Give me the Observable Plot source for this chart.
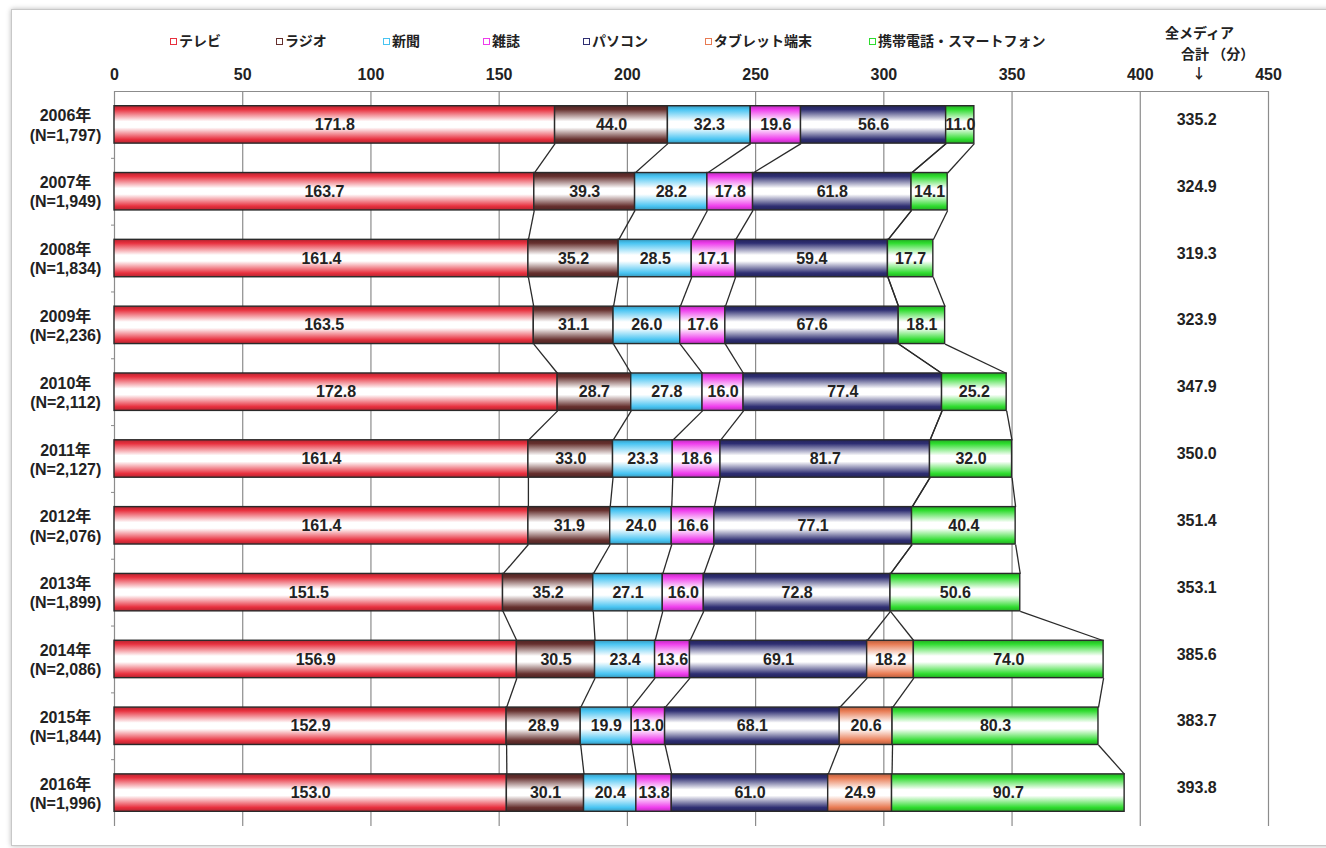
<!DOCTYPE html>
<html><head><meta charset="utf-8">
<script src="https://cdn.jsdelivr.net/npm/d3@7"></script>
<script src="https://cdn.jsdelivr.net/npm/@observablehq/plot@0.6"></script>
<style>
body{margin:0;background:#fff;}
#wrap{position:relative;width:1326px;height:848px;overflow:hidden;background:#fff;}
#paper{position:absolute;left:11px;top:9px;width:1340px;height:835px;border:1px solid #c8c8c8;box-shadow:0 0 5px rgba(0,0,0,.28);}
#chart{position:absolute;left:0;top:0;}
.leg{position:absolute;top:30px;font:bold 14px "Noto Sans CJK JP",sans-serif;color:#222;line-height:20px;white-space:nowrap;}
.sw{display:inline-block;width:5px;height:5px;border:1.5px solid;background:#fff;margin-right:2px;vertical-align:1px;}
.hd{position:absolute;font:bold 14px "Noto Sans CJK JP",sans-serif;color:#222;line-height:18px;white-space:nowrap;}
</style></head>
<body><div id="wrap"><div id="paper"></div><div id="chart"></div></div>
<script>
// ---- data ----
const years = ["2006年","2007年","2008年","2009年","2010年","2011年","2012年","2013年","2014年","2015年","2016年"];
const sampleN = ["1,797","1,949","1,834","2,236","2,112","2,127","2,076","1,899","2,086","1,844","1,996"];
const seriesNames = ["テレビ","ラジオ","新聞","雑誌","パソコン","タブレット端末","携帯電話・スマートフォン"];
const seriesColors = ["#e8303e","#66302e","#48c4f2","#ee3cec","#2e2e72","#e87a52","#2edc2e"];
const tv        = [171.8,163.7,161.4,163.5,172.8,161.4,161.4,151.5,156.9,152.9,153.0];
const radio     = [44.0,39.3,35.2,31.1,28.7,33.0,31.9,35.2,30.5,28.9,30.1];
const newspaper = [32.3,28.2,28.5,26.0,27.8,23.3,24.0,27.1,23.4,19.9,20.4];
const magazine  = [19.6,17.8,17.1,17.6,16.0,18.6,16.6,16.0,13.6,13.0,13.8];
const pc        = [56.6,61.8,59.4,67.6,77.4,81.7,77.1,72.8,69.1,68.1,61.0];
const tablet    = [null,null,null,null,null,null,null,null,18.2,20.6,24.9];
const mobile    = [11.0,14.1,17.7,18.1,25.2,32.0,40.4,50.6,74.0,80.3,90.7];
const totals    = [335.2,324.9,319.3,323.9,347.9,350.0,351.4,353.1,385.6,383.7,393.8];
const xTicks    = [0,50,100,150,200,250,300,350,400,450];

// ---- layout constants ----
const HALF = 0.28;          // half bar thickness (in row units)
const TOTAL_COL = 422;      // x value of the totals column
const legendLeft = [170,276,383,483,583,705,869];

const seriesValues = [tv,radio,newspaper,magazine,pc,tablet,mobile];
const rows = [];
const ends = seriesValues.map(() => []);
years.forEach((y, i) => {
  let cum = 0;
  seriesValues.forEach((vals, s) => {
    const v = vals[i] ?? 0;
    rows.push({i, s, x1: cum, x2: cum + v, v});
    cum += v;
    ends[s][i] = cum;
  });
});
const links = [];
ends.forEach((e, s) => {
  for (let i = 0; i < years.length - 1; i++) links.push({s, i, a: e[i], b: e[i + 1]});
});
const bars = rows.filter(r => r.v > 0);

const font = '"Liberation Sans","Noto Sans CJK JP",sans-serif';
const plot = Plot.plot({
  width: 1326, height: 848,
  marginTop: 91, marginBottom: 22, marginLeft: 114, marginRight: 58,
  x: {domain: [0, 450], axis: null},
  y: {domain: [-0.5, years.length - 0.5], reverse: true, axis: null},
  color: {type: "identity"},
  style: {fontFamily: font, fontSize: "16px", color: "#222", background: "transparent", overflow: "visible"},
  marks: [
    Plot.gridX(xTicks, {stroke: "#8c8c8c", strokeOpacity: 1, strokeWidth: 1.2}),
    Plot.ruleY([-0.5], {stroke: "#8c8c8c", strokeWidth: 1.2}),
    Plot.axisX(xTicks, {anchor: "top", tickSize: 0, tickPadding: 12, fontSize: 16, fontWeight: "bold", label: null}),
    Plot.axisY(d3.range(years.length), {anchor: "left", tickSize: 0, tickPadding: 49, textAnchor: "middle",
      tickFormat: i => `${years[i]}\n(N=${sampleN[i]})`, fontSize: 16, fontWeight: "bold", lineHeight: 1.2, label: null}),
    Plot.axisY(d3.range(years.length - 1).map(i => i + 0.5), {anchor: "left", tickSize: 3, stroke: "#8c8c8c", tickFormat: () => "", label: null}),
    Plot.link(links, {x1: "a", y1: d => d.i + HALF, x2: "b", y2: d => d.i + 1 - HALF, stroke: "#2a2a2a", strokeWidth: 1.3}),
    Plot.rect(bars, {x1: "x1", x2: "x2", y1: d => d.i - HALF, y2: d => d.i + HALF,
      fill: d => `url(#mgrad${d.s})`, stroke: "#2a2a2a", strokeWidth: 1.4}),
    Plot.text(bars, {x: d => (d.x1 + d.x2) / 2, y: "i", text: d => d.v.toFixed(1), fontSize: 16, fontWeight: "bold", fill: "#222"}),
    Plot.text(totals, {x: () => TOTAL_COL, y: (d, i) => i, dy: -5, text: d => d.toFixed(1), fontSize: 16, fontWeight: "bold", fill: "#222"})
  ]
});

const defs = d3.select(plot).insert("defs", ":first-child");
seriesColors.forEach((c, k) => {
  const g = defs.append("linearGradient").attr("id", "mgrad" + k)
    .attr("x1", 0).attr("y1", 0).attr("x2", 0).attr("y2", 1);
  const dark = d3.color(c).darker(0.7).formatHex();
  [[0, dark], [0.1, c], [0.42, "#ffffff"], [0.58, "#ffffff"], [0.9, c], [1, dark]]
    .forEach(([o, col]) => g.append("stop").attr("offset", o).attr("stop-color", col));
});
document.getElementById("chart").appendChild(plot);

// legend
const wrap = document.getElementById("wrap");
seriesNames.forEach((n, k) => {
  const d = document.createElement("div");
  d.className = "leg";
  d.style.left = legendLeft[k] + "px";
  d.innerHTML = `<span class="sw" style="border-color:${seriesColors[k]}"></span>${n}`;
  wrap.appendChild(d);
});
// totals header
[["全メディア", 1165, 23], ["合計 （分）", 1181, 44], ["↓", 1192, 63]].forEach(([t, l, tp]) => {
  const d = document.createElement("div");
  d.className = "hd"; d.textContent = t;
  d.style.left = l + "px"; d.style.top = tp + "px";
  wrap.appendChild(d);
});
</script></body></html>
